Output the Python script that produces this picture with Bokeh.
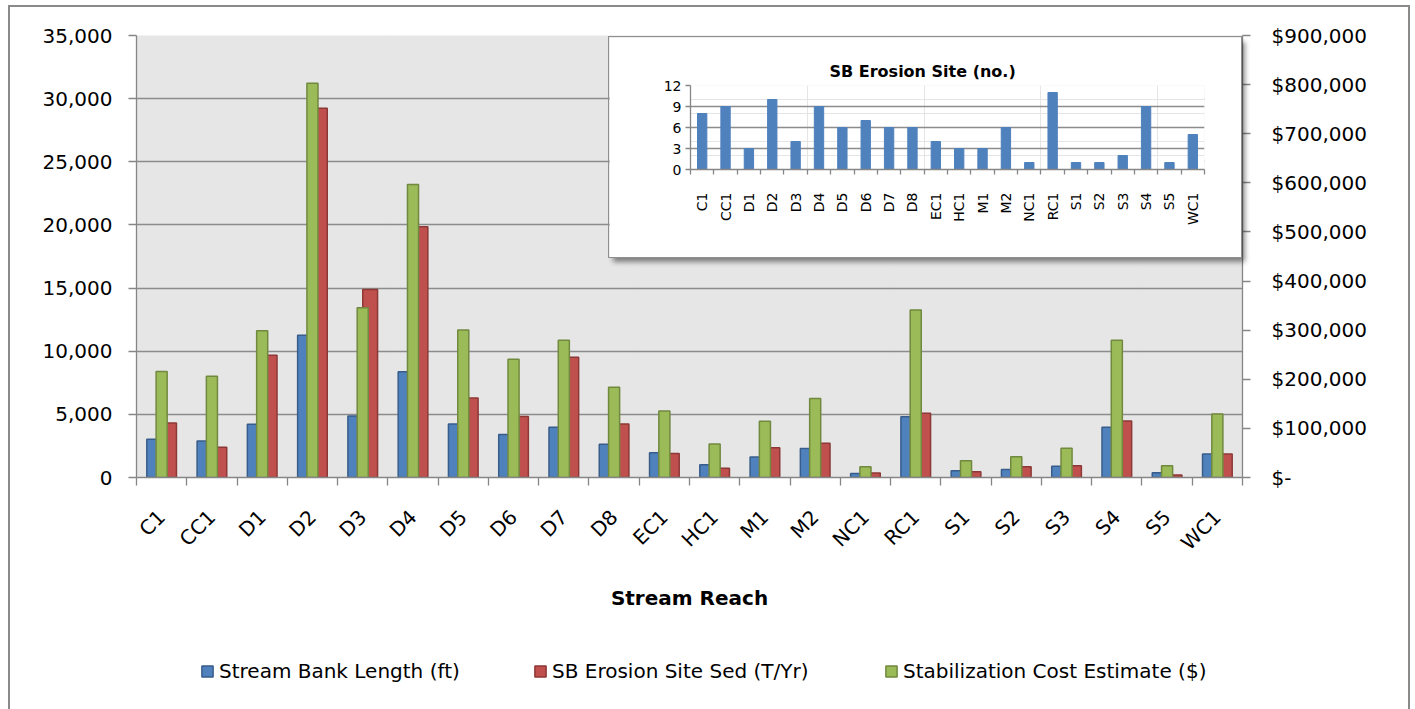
import math
from bokeh.plotting import figure
from bokeh.models import (Range1d, LinearAxis, FixedTicker,
                          NumeralTickFormatter, Legend, LegendItem, ColumnDataSource, Grid, Title)
from bokeh.transform import dodge
from bokeh.embed import file_html
from bokeh.resources import INLINE

# ---------------- data ----------------
reaches = ["C1", "CC1", "D1", "D2", "D3", "D4", "D5", "D6", "D7", "D8", "EC1", "HC1",
           "M1", "M2", "NC1", "RC1", "S1", "S2", "S3", "S4", "S5", "WC1"]
bank_length_ft = [3030, 2900, 4210, 11260, 4870, 8370, 4240, 3400, 3980, 2630, 1950, 1000,
                  1630, 2290, 320, 4820, 530, 640, 900, 3980, 370, 1870]
erosion_sed_tyr = [4320, 2400, 9680, 29240, 14890, 19850, 6290, 4840, 9520, 4240, 1900, 740,
                   2350, 2710, 350, 5080, 450, 850, 930, 4480, 190, 1870]
cost_usd = [215800, 206200, 298900, 803000, 345600, 596400, 300300, 240700, 279300, 183900,
            135300, 68300, 114400, 161000, 21700, 340900, 33900, 42000, 59600, 279300, 23700, 129200]
erosion_sites = [8, 9, 3, 10, 4, 9, 6, 7, 6, 6, 4, 3, 3, 6, 1, 11, 1, 1, 2, 9, 1, 5]

left_ticks = [0, 5000, 10000, 15000, 20000, 25000, 30000, 35000]
right_ticks = [0, 100000, 200000, 300000, 400000, 500000, 600000, 700000, 800000, 900000]
inset_ticks = [0, 3, 6, 9, 12]

series_labels = ["Stream Bank Length (ft)", "SB Erosion Site Sed (T/Yr)", "Stabilization Cost Estimate ($)"]
series_fields = ["bank", "sed", "cost"]
inset_title = "SB Erosion Site (no.)"
x_title = "Stream Reach"

FONT = "DejaVu Sans"
AX = "#868686"
BLUE, BLUE_L = "#4f81bd", "#385d8a"
RED, RED_L = "#c0504d", "#8c3836"
GREEN, GREEN_L = "#9bbb59", "#71893f"
FILLS = [(BLUE, BLUE_L), (RED, RED_L), (GREEN, GREEN_L)]

N = len(reaches)
centers = [i + 0.5 for i in range(N)]          # category slot centres on the numeric axis
bounds = list(range(N + 1))                     # category boundaries (tick marks)
cat_labels = {c: r for c, r in zip(centers, reaches)}

src = ColumnDataSource(dict(xc=centers, reach=reaches, bank=bank_length_ft, sed=erosion_sed_tyr,
                            cost=cost_usd, sites=erosion_sites))

def style_axis(ax, size="20px"):
    ax.axis_line_color = AX
    ax.axis_line_width = 1.3
    ax.major_tick_line_color = AX
    ax.major_tick_line_width = 1.3
    ax.minor_tick_line_color = None
    ax.major_tick_in = 0
    ax.major_label_text_font = FONT
    ax.major_label_text_font_size = size
    ax.major_label_text_color = "black"

# ---------------- main chart ----------------
W, H = 1402, 704
p = figure(width=W, height=H, x_range=Range1d(0, N), y_range=Range1d(0, 35000),
           output_backend="svg", toolbar_location=None,
           x_axis_location=None, y_axis_location=None,
           min_border_left=128, min_border_right=168, min_border_top=30, min_border_bottom=232)
p.extra_y_ranges = {"cost": Range1d(0, 900000)}
p.background_fill_color = "#e6e6e6"
p.border_fill_color = None
p.outline_line_color = None
p.margin = (5, 0, 0, 8)
p.styles = {"box-shadow": "inset 2px 2px 0 #8a8a8a, inset -2px 0 0 #8a8a8a"}

p.add_layout(Grid(dimension=1, ticker=FixedTicker(ticks=left_ticks),
                  grid_line_color="#8c8c8c", grid_line_width=1.6))

yl = LinearAxis(ticker=FixedTicker(ticks=left_ticks), formatter=NumeralTickFormatter(format="0,0"))
style_axis(yl)
yl.major_tick_out = 8
yl.major_label_standoff = 16
p.add_layout(yl, "left")

yr = LinearAxis(y_range_name="cost", ticker=FixedTicker(ticks=right_ticks),
                formatter=NumeralTickFormatter(format="$0,0"), major_label_overrides={0: "$-"})
style_axis(yr)
yr.major_tick_out = 8
yr.major_label_standoff = 21
p.add_layout(yr, "right")

xt = LinearAxis(ticker=FixedTicker(ticks=bounds))
style_axis(xt, "1px")
xt.major_tick_out = 8
xt.major_label_standoff = 0
xt.major_label_text_alpha = 0
p.add_layout(xt, "below")

xc = LinearAxis(ticker=FixedTicker(ticks=centers), major_label_overrides=cat_labels)
style_axis(xc)
xc.axis_line_color = None
xc.major_tick_line_color = None
xc.major_label_orientation = math.pi / 4
xc.major_label_standoff = 22
xc.axis_label = x_title
xc.axis_label_text_font = FONT
xc.axis_label_text_font_size = "20px"
xc.axis_label_text_font_style = "bold"
xc.axis_label_text_color = "black"
xc.axis_label_standoff = 20
p.add_layout(xc, "below")

bw = 0.295
p.vbar(x=dodge("xc", -bw / 2), top="bank", width=bw, source=src,
       fill_color=BLUE, line_color=BLUE_L, line_width=1.5)
p.vbar(x=dodge("xc", bw / 2), top="sed", width=bw, source=src,
       fill_color=RED, line_color=RED_L, line_width=1.5)
p.vbar(x="xc", top="cost", width=0.22, source=src, y_range_name="cost",
       fill_color=GREEN, line_color=GREEN_L, line_width=1.5)

# ---------------- inset chart ----------------
IW, IH = 632, 220
q = figure(width=IW, height=IH, x_range=Range1d(0, N), y_range=Range1d(0, 12),
           output_backend="svg", toolbar_location=None,
           x_axis_location=None, y_axis_location=None,
           min_border_left=81, min_border_right=37, min_border_top=48, min_border_bottom=88)
q.background_fill_color = "white"
q.border_fill_color = "white"
q.outline_line_color = None
q.margin = (-672, 0, 0, 609)
q.styles = {"box-shadow": "0 0 0 1px #8f8f8f, 4px 5px 5px rgba(0,0,0,0.45)"}

q.add_layout(Grid(dimension=1, ticker=FixedTicker(ticks=inset_ticks),
                  grid_line_color="#8c8c8c", grid_line_width=1.6))

qy = LinearAxis(ticker=FixedTicker(ticks=inset_ticks))
style_axis(qy, "14px")
qy.major_tick_out = 5
qy.major_label_standoff = 4
q.add_layout(qy, "left")

qt = LinearAxis(ticker=FixedTicker(ticks=bounds))
style_axis(qt, "1px")
qt.major_tick_out = 5
qt.major_label_standoff = 0
qt.major_label_text_alpha = 0
q.add_layout(qt, "below")

qc = LinearAxis(ticker=FixedTicker(ticks=centers), major_label_overrides=cat_labels)
style_axis(qc, "14px")
qc.axis_line_color = None
qc.major_tick_line_color = None
qc.major_label_orientation = math.pi / 2
qc.major_label_standoff = 12
q.add_layout(qc, "below")

q.add_layout(Title(text=inset_title, align="left", offset=139, text_font=FONT,
                   text_font_size="16px", text_font_style="bold", text_color="black"), "above")

q.vbar(x="xc", top="sites", width=0.4, source=src, fill_color=BLUE, line_color=BLUE, line_width=1)

# ---------------- legend strip ----------------
LW, LH = 1100, 40
lgf = figure(width=LW, height=LH, x_range=Range1d(0, N), y_range=Range1d(0, 35000),
             output_backend="svg", toolbar_location=None,
             x_axis_location=None, y_axis_location=None,
             min_border_left=0, min_border_right=0, min_border_top=0, min_border_bottom=0)
lgf.background_fill_color = None
lgf.border_fill_color = None
lgf.outline_line_color = None
lgf.xgrid.visible = False
lgf.ygrid.visible = False
lgf.margin = (394, 0, 0, 190)
for lbl, fld, (fc, lc), vx in zip(series_labels, series_fields, FILLS, [10, 343, 694]):
    # hidden renderers: they only provide the legend swatches
    r = lgf.vbar(x="xc", top=fld, width=0.3, source=src,
                 fill_color=fc, line_color=lc, line_width=1.5, visible=False)
    lg = Legend(items=[LegendItem(label=lbl, renderers=[r])], location=(vx, 8),
                orientation="horizontal", border_line_color=None, background_fill_alpha=0,
                inactive_fill_alpha=0, padding=0, margin=0, glyph_width=14, glyph_height=14,
                label_standoff=5, label_text_font=FONT, label_text_font_size="20px",
                label_text_color="black")
    lgf.add_layout(lg)

open("out.html", "w").write(file_html([p, q, lgf], INLINE))
